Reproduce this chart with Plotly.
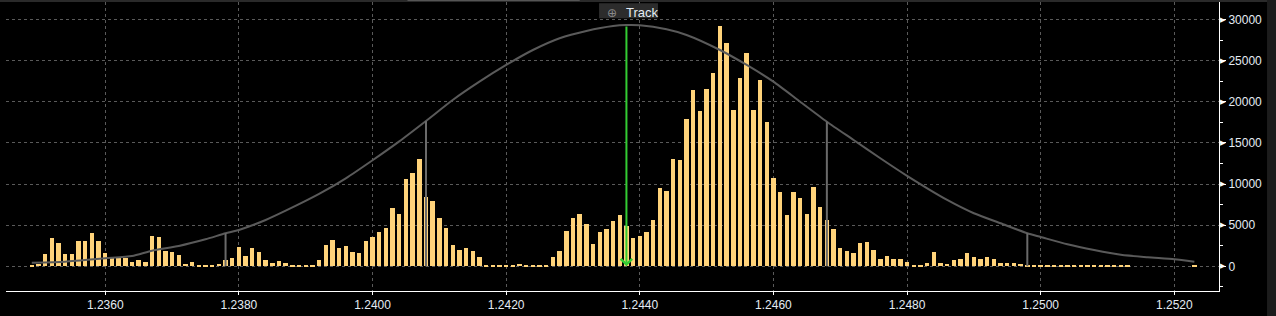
import numpy as np
import plotly.graph_objects as go

# ---- data ----
volumes = [
    100, 250, 1460, 3410, 2800, 1460, 1460, 3045, 3045, 4020,
    3045, 1580, 1100, 1100, 975, 490, 730, 490, 3650, 3530,
    1830, 1700, 1340, 245, 490, 40, 40, 40, 245, 730,
    975, 2315, 1220, 2190, 1700, 730, 365, 610, 365, 40,
    40, 40, 40, 730, 2560, 3170, 2190, 2440, 1700, 1580,
    3045, 3530, 4140, 4630, 7060, 6330, 10600, 11330, 13030, 8400,
    7920, 5850, 4630, 2560, 1950, 2190, 1830, 1100, 40, 120,
    40, 120, 120, 245, 40, 40, 40, 120, 1100, 1830,
    4300, 5850, 6330, 5120, 2680, 4140, 4500, 5480, 6210, 4870,
    3410, 3650, 4140, 5600, 9500, 9135, 13030, 12910, 17900, 21440,
    18880, 21560, 23510, 29230, 27160, 19000, 22900, 25940, 19000, 22650,
    17540, 10720, 9010, 6210, 9010, 8280, 6330, 9620, 7190, 5600,
    4500, 2190, 1830, 1580, 2800, 2920, 1950, 850, 1220, 850,
    850, 490, 40, 40, 365, 1700, 365, 245, 730, 850,
    1580, 1100, 850, 1100, 850, 365, 365, 365, 245, 40,
    40, 40, 100, 40, 40, 40, 40, 40, 40, 40,
    40, 40, 40, 40, 40, 0, 0, 0, 0, 0,
    0, 0, 0, 0, 40,
]
bin_start = 1.2349
bin_step = 0.0001
prices = np.round(bin_start + bin_step * np.arange(len(volumes)), 4)

curve_x = [1.2349, 1.2354, 1.2360, 1.2364, 1.2367, 1.2371, 1.2375, 1.2378, 1.2380,
           1.2384, 1.2387, 1.2392, 1.2396, 1.2400, 1.2404, 1.2408, 1.2412, 1.2416,
           1.2420, 1.2424, 1.2428, 1.2432, 1.2436, 1.2438, 1.2440, 1.2444, 1.2447,
           1.2452, 1.2456, 1.2460, 1.2464, 1.2468, 1.2472, 1.2476, 1.2480, 1.2486,
           1.2490, 1.2494, 1.2498, 1.2500, 1.2504, 1.2508, 1.2512, 1.2516, 1.2520, 1.2523]
curve_y = [440, 560, 970, 1250, 1900, 2470, 3280, 4015, 4420,
           5630, 6760, 8800, 10700, 12900, 15200, 17680, 20230, 22460,
           24490, 26310, 27740, 28630, 29230, 29350, 29320, 28830, 28140,
           26310, 24490, 22460, 20020, 17590, 15365, 13140, 11000, 8070,
           6450, 5230, 4015, 3570, 2680, 1980, 1400, 1095, 850, 560]

sigma_x = [1.2378, 1.2408, 1.2468, 1.2498]
sigma_y = [4015, 17680, 17590, 4015]

current_price = 1.2438
current_top = 29350

x_ticks = [1.2360, 1.2380, 1.2400, 1.2420, 1.2440, 1.2460, 1.2480, 1.2500, 1.2520]
y_ticks = [0, 5000, 10000, 15000, 20000, 25000, 30000]

# ---- figure ----
fig = go.Figure()
fig.add_bar(x=prices, y=volumes, width=0.000066,
            marker=dict(color='#ffd37a', line=dict(width=0)), hoverinfo='skip')
fig.add_scatter(x=curve_x, y=curve_y, mode='lines',
                line=dict(color='#5a5a5a', width=2, shape='spline', smoothing=0.6),
                hoverinfo='skip')
sx, sy = [], []
for xv, yv in zip(sigma_x, sigma_y):
    sx += [xv, xv, None]
    sy += [0, yv, None]
fig.add_scatter(x=sx, y=sy, mode='lines', line=dict(color='#6a6a6a', width=2), hoverinfo='skip')

fig.add_annotation(x=current_price, y=0, ax=current_price, ay=current_top,
                   xref='x', yref='y', axref='x', ayref='y', text='',
                   showarrow=True, arrowhead=4, arrowsize=1.1, arrowwidth=2,
                   arrowcolor='#33cc33')

tick_font = dict(family='Liberation Sans, Arial, sans-serif', size=12, color='#e4ecf4')

fig.update_layout(
    width=1276, height=316,
    margin=dict(l=6, r=57, t=2, b=25),
    paper_bgcolor='black', plot_bgcolor='black',
    showlegend=False, bargap=0,
    font=tick_font,
)
fig.update_xaxes(range=[1.234514, 1.252669], tickmode='array', tickvals=x_ticks,
                 ticktext=[f'{v:.4f}' for v in x_ticks],
                 showgrid=True, gridcolor='#5a5a5a', griddash='dot', gridwidth=1,
                 showline=True, linecolor='white', linewidth=1,
                 ticks='outside', ticklen=3, tickcolor='white',
                 zeroline=False, tickfont=tick_font, automargin=False)
fig.update_yaxes(side='right', range=[-3005, 32150], tickmode='array', tickvals=y_ticks,
                 ticktext=[str(v) for v in y_ticks],
                 showgrid=True, gridcolor='#5a5a5a', griddash='dot', gridwidth=1,
                 showline=True, linecolor='white', linewidth=1,
                 ticks='outside', ticklen=6, tickcolor='white',
                 minor=dict(tickmode='linear', tick0=0, dtick=2500, ticks='outside',
                            ticklen=3, tickcolor='white', showgrid=False),
                 zeroline=False, tickfont=tick_font, automargin=False)

for v in y_ticks:
    fig.add_annotation(xref='paper', yref='y', x=1, y=v, text='▶', showarrow=False,
                       xanchor='left', yanchor='middle', xshift=-1,
                       font=dict(family='DejaVu Sans', size=7, color='white'))

# top bar and right strip (frame decoration)
fig.add_shape(type='rect', xref='paper', yref='paper', x0=-0.01, x1=1.06, y0=1.0, y1=1.01,
              fillcolor='#2a2a2a', line=dict(width=0), layer='above')
fig.add_shape(type='rect', xref='paper', yref='paper', x0=0.331, x1=0.473, y0=1.0035, y1=1.01,
              fillcolor='#555555', line=dict(width=0), layer='above')
fig.add_shape(type='rect', xref='paper', yref='paper', x0=1.0396, x1=1.06, y0=-0.1, y1=1.01,
              fillcolor='#1c1c1c', line=dict(width=0), layer='above')

# Track button
fig.add_shape(type='rect', xref='paper', yref='paper', x0=0.4889, x1=0.5375, y0=0.9436, y1=0.9955,
              fillcolor='#2c2c2c', line=dict(width=0), layer='above')
fig.add_annotation(xref='paper', yref='paper', x=0.4993, y=0.963, xanchor='center', yanchor='middle',
                   showarrow=False, text='⊕',
                   font=dict(family='DejaVu Sans', size=12, color='#8a8a8a'))
fig.add_annotation(xref='paper', yref='paper', x=0.5095, y=0.963, xanchor='left', yanchor='middle',
                   showarrow=False, text='Track',
                   font=dict(family='Liberation Sans, Arial, sans-serif', size=13, color='#e4ecf4'))

fig.write_html('out.html')
